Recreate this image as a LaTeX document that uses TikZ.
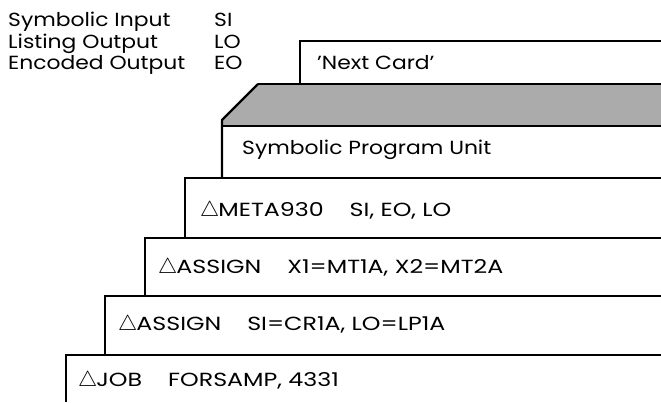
\documentclass[tikz,border=0pt]{standalone}
\usepackage{fontspec}
\setmainfont{Poppins}[FakeStretch=1.15]
\newfontfamily\capsfont{Poppins}[FakeStretch=1.25]
\usepackage{tikz}
\usetikzlibrary{positioning, calc}
\definecolor{shadegray}{HTML}{ABABAB}
\newcommand{\tri}{\scalebox{1.25}{$\triangle$}\kern-1pt}
\newcommand{\gap}{\hspace{26pt}}
\tikzset{
  card/.style={line width=2.4pt, line cap=butt},
  cardtext/.style={anchor=base west, inner sep=0pt, font=\fontsize{19}{23}\selectfont},
  cardcaps/.style={anchor=base west, inner sep=0pt, font=\capsfont\fontsize{19}{23}\selectfont},
  legendtext/.style={anchor=base west, inner sep=0pt, font=\fontsize{19}{23}\selectfont}
}

\begin{document}
\begin{tikzpicture}[x=1pt, y=-1pt]
        \useasboundingbox (0,0) rectangle (661,402);
        % Legende
        \node[legendtext] (si) at (8,26) {Symbolic Input};
        \node[legendtext] (lo) at (8,48) {Listing Output};
        \node[legendtext] (eo) at (8,69) {Encoded Output};
        \node[legendtext] (sic) at (214,26) {SI};
        \node[legendtext] (loc) at (214,48) {LO};
        \node[legendtext] (eoc) at (214,69) {EO};
        % Schattierter Stapel
        \fill[shadegray] (258,84)--(661,84)--(661,126)--(222,126)--(222,120)--cycle;
        \draw[card] (300,84)|-(661,41);
        \draw[card] (258,84)--(661,84);
        \draw[card] (222,178)--(222,120)--(258,84);
        \draw[card] (222,126)--(661,126);
        % Karten (links, oben, unten)
        \foreach \x/\t/\b in {185/178/238, 145/238/296, 105/296/355, 66/355/402}{
          \draw[card] (\x,\b)|-(661,\t);
        }
        % Kartentexte
        \node[cardtext] (next) at (317,69) {'Next Card'};
        \node[cardtext] (unit) at (242,154) {Symbolic Program Unit};
        \node[cardcaps] (meta) at (200,216) {\tri META930\gap SI, EO, LO};
        \node[cardcaps] (asx) at (158,273) {\tri ASSIGN\gap X1=MT1A, X2=MT2A};
        \node[cardcaps] (assi) at (118,330) {\tri ASSIGN\gap SI=CR1A, LO=LP1A};
        \node[cardcaps] (job) at (78,386) {\tri JOB\gap FORSAMP, 4331};
      \end{tikzpicture}
\end{document}
